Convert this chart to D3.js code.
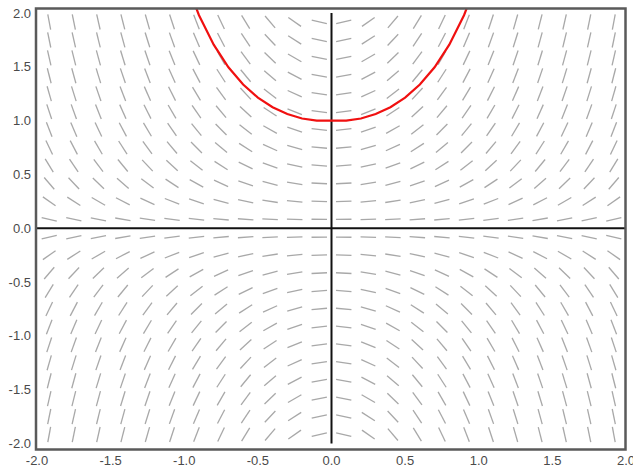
<!DOCTYPE html>
<html>
<head>
<meta charset="utf-8">
<script src="https://cdn.jsdelivr.net/npm/d3@7"></script>
<style>
  body { margin: 0; background: #fff; }
  text { font-family: Arial, "Liberation Sans", sans-serif; font-size: 13px; fill: #4a4a4a; }
</style>
</head>
<body>
<div id="chart"></div>
<script>
// Data
// ================================
// slope field of dy/dx = 2xy, sampled on a 24 x 24 grid
var gridX = [-1.917, -1.75, -1.583, -1.417, -1.25, -1.083, -0.917, -0.75, -0.583, -0.417, -0.25, -0.083,
             0.083, 0.25, 0.417, 0.583, 0.75, 0.917, 1.083, 1.25, 1.417, 1.583, 1.75, 1.917];
var gridY = gridX.slice();
function dydx(x, y) { return 2 * x * y; }

// Euler solution through (0, 1), step 0.1 (red curve)
var curveX = [-1.0, -0.9, -0.8, -0.7, -0.6, -0.5, -0.4, -0.3, -0.2, -0.1, 0.0,
              0.1, 0.2, 0.3, 0.4, 0.5, 0.6, 0.7, 0.8, 0.9, 1.0];
var curveY = [2.335, 1.979, 1.706, 1.496, 1.336, 1.214, 1.125, 1.061, 1.02, 1.0, 1.0,
              1.0, 1.02, 1.061, 1.125, 1.214, 1.336, 1.496, 1.706, 1.979, 2.335];

var xTicks = [-2.0, -1.5, -1.0, -0.5, 0.0, 0.5, 1.0, 1.5, 2.0];
var yTicks = [-2.0, -1.5, -1.0, -0.5, 0.0, 0.5, 1.0, 1.5, 2.0];

// Step 1: Set up chart
// ================================
var svgWidth = 633;
var svgHeight = 469;

var svg = d3.select("#chart")
  .append("svg")
  .attr("width", svgWidth)
  .attr("height", svgHeight);

var xScale = d3.scaleLinear().domain([-2, 2]).range([37, 626]);
var yScale = d3.scaleLinear().domain([-2, 2]).range([443.5, 13]);

// frame
var frame = { x: 36, y: 8.5, w: 589.5, h: 441 };

svg.append("clipPath")
  .attr("id", "clip")
  .append("rect")
  .attr("x", frame.x)
  .attr("y", frame.y)
  .attr("width", frame.w)
  .attr("height", frame.h);

// Step 2: slope segments
// ================================
var cells = [];
gridY.forEach(function(gy) {
  gridX.forEach(function(gx) {
    cells.push({ x: gx, y: gy, m: dydx(gx, gy) });
  });
});

var segLen = 15.5;
var kx = xScale(1) - xScale(0);
var ky = yScale(0) - yScale(1);

svg.append("g")
  .selectAll("line")
  .data(cells)
  .enter()
  .append("line")
  .each(function(d) {
    // direction in pixel space
    var vx = kx;
    var vy = d.m * ky;
    var n = Math.sqrt(vx * vx + vy * vy);
    var hx = segLen / 2 * vx / n;
    var hy = segLen / 2 * vy / n;
    var cx = xScale(d.x), cy = yScale(d.y);
    d3.select(this)
      .attr("x1", cx - hx).attr("y1", cy + hy)
      .attr("x2", cx + hx).attr("y2", cy - hy);
  })
  .attr("stroke", "#a8a8a8")
  .attr("stroke-width", 1.3);

// Step 3: axes through origin
// ================================
svg.append("line")
  .attr("x1", frame.x).attr("x2", frame.x + frame.w)
  .attr("y1", yScale(0)).attr("y2", yScale(0))
  .attr("stroke", "#111")
  .attr("stroke-width", 2);

svg.append("line")
  .attr("x1", xScale(0)).attr("x2", xScale(0))
  .attr("y1", yScale(2)).attr("y2", yScale(-2))
  .attr("stroke", "#111")
  .attr("stroke-width", 2);

// Step 4: red curve
// ================================
var line = d3.line()
  .x(function(d, i) { return xScale(curveX[i]); })
  .y(function(d) { return yScale(d); });

svg.append("path")
  .datum(curveY)
  .attr("clip-path", "url(#clip)")
  .attr("d", line)
  .attr("fill", "none")
  .attr("stroke", "#f01010")
  .attr("stroke-width", 2.2);

// Step 5: frame and tick labels
// ================================
svg.append("rect")
  .attr("x", frame.x)
  .attr("y", frame.y)
  .attr("width", frame.w)
  .attr("height", frame.h)
  .attr("fill", "none")
  .attr("stroke", "#5a5a5a")
  .attr("stroke-width", 2.5);

svg.append("g")
  .selectAll("text")
  .data(yTicks)
  .enter()
  .append("text")
  .attr("x", 31)
  .attr("y", function(d) { return yScale(d); })
  .attr("dy", "0.35em")
  .attr("text-anchor", "end")
  .text(function(d) { return d.toFixed(1); });

svg.append("g")
  .selectAll("text")
  .data(xTicks)
  .enter()
  .append("text")
  .attr("x", function(d) { return xScale(d); })
  .attr("y", 460)
  .attr("dy", "0.35em")
  .attr("text-anchor", "middle")
  .text(function(d) { return d.toFixed(1); });
</script>
</body>
</html>
